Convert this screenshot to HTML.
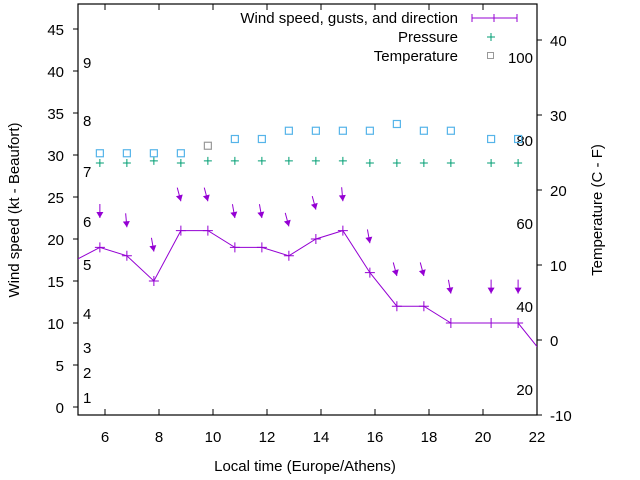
<!DOCTYPE html>
<html><head><meta charset="utf-8"><style>
body{margin:0;background:#fff}
svg{display:block;font-family:"Liberation Sans",sans-serif}
</style></head><body>
<svg id="c" width="640" height="480" viewBox="0 0 640 480">
<defs><clipPath id="clip"><rect x="78" y="4" width="459" height="411"/></clipPath></defs>
<g id="axes"></g>
<g id="plot" clip-path="url(#clip)"></g>
<g id="legend">
<text x="458" y="23" text-anchor="end" font-size="15">Wind speed, gusts, and direction</text>
<line x1="472" y1="18" x2="517" y2="18" stroke="#9400d3" stroke-width="1"/>
<line x1="472" y1="14" x2="472" y2="22" stroke="#9400d3"/><line x1="494" y1="14" x2="494" y2="22" stroke="#9400d3"/><line x1="517" y1="14" x2="517" y2="22" stroke="#9400d3"/>
<text x="458" y="42" text-anchor="end" font-size="15">Pressure</text>
<path d="M487 37h8M491 33v8" stroke="#009e73"/>
<text x="458" y="61" text-anchor="end" font-size="15">Temperature</text>
<rect x="487.5" y="52.5" width="6" height="6" fill="none" stroke="#999"/>
</g>
</svg>
<script>
const hours=[4.8,5.81,6.81,7.81,8.81,9.81,10.81,11.81,12.81,13.81,14.81,15.81,16.81,17.81,18.81,20.3,21.3,22.3];
const wind=[17.3,19,18,15,21,21,19,19,18,20,21,16,12,12,10,10,10,6];
const gustHours=[5.81,6.81,7.81,8.81,9.81,10.81,11.81,12.81,13.81,14.81,15.81,16.81,17.81,18.81,20.3,21.3];
const gusts=[22.5,21.4,18.5,24.5,24.5,22.5,22.5,21.5,23.5,24.5,19.5,15.6,15.6,13.5,13.5,13.5];
const dirTilt=[0,5,10,15,15,10,10,15,15,5,10,15,15,10,0,0];
const pressure=[29.05,29.05,29.3,29.05,29.3,29.3,29.3,29.3,29.3,29.3,29.05,29.05,29.05,29.05,29.05,29.05];
const temps=[24.9,24.9,24.9,24.9,25.9,26.8,26.8,27.9,27.9,27.9,27.9,28.8,27.9,27.9,26.8,26.8];
const xTicks=[6,8,10,12,14,16,18,20,22];
const yTicks=[0,5,10,15,20,25,30,35,40,45];
const tTicks=[-10,0,10,20,30,40];
const beaufort=[[1,397],[2,372],[3,347],[4,313],[5,264],[6,221],[7,171],[8,120],[9,62]];
const fahr=[[20,389],[40,306],[60,223],[80,140],[100,57]];
const X=h=>78+(h-5)*27;
const Y=v=>407-v*8.4;
const T=t=>340-t*7.5;
const NS='http://www.w3.org/2000/svg';
function mk(p,tag,at,txt){const e=document.createElementNS(NS,tag);for(const k in at)e.setAttribute(k,at[k]);if(txt!==undefined)e.textContent=txt;p.appendChild(e);return e;}
const ax=document.getElementById('axes'),pl=document.getElementById('plot');
let b=mk(ax,'rect',{x:78,y:4,width:459,height:411,fill:'none',stroke:'#000','stroke-width':1.2});


xTicks.forEach(h=>{const x=X(h);
mk(ax,'line',{x1:x,y1:4,x2:x,y2:10,stroke:'#000'});
mk(ax,'line',{x1:x,y1:415,x2:x,y2:409,stroke:'#000'});
const t=mk(ax,'text',{x:x,y:442,'text-anchor':'middle','font-size':15},String(h));

});
yTicks.forEach(v=>{const y=Y(v);
mk(ax,'line',{x1:73,y1:y,x2:78,y2:y,stroke:'#000'});
const t=mk(ax,'text',{x:64,y:y+6,'text-anchor':'end','font-size':15},String(v));

});
tTicks.forEach(v=>{const y=T(v);
mk(ax,'line',{x1:537,y1:y,x2:542,y2:y,stroke:'#000'});
const t=mk(ax,'text',{x:550,y:y+6,'font-size':15},String(v));

});
beaufort.forEach(([n,y])=>{const t=mk(ax,'text',{x:83,y:y+6,'font-size':15},String(n));

});
fahr.forEach(([n,y])=>{const t=mk(ax,'text',{x:533,y:y+6,'text-anchor':'end','font-size':15},String(n));

});
let l=mk(ax,'text',{x:305,y:471,'text-anchor':'middle','font-size':15},'Local time (Europe/Athens)');


l=mk(ax,'text',{transform:'translate(19,210) rotate(-90)','text-anchor':'middle','font-size':15},'Wind speed (kt - Beaufort)');


l=mk(ax,'text',{transform:'translate(602,210) rotate(-90)','text-anchor':'middle','font-size':15},'Temperature (C - F)');


// wind line
const ln=mk(pl,'polyline',{points:hours.map((h,i)=>X(h)+','+Y(wind[i])).join(' '),fill:'none',stroke:'#9400d3','stroke-width':1});


hours.forEach((h,i)=>{const x=X(h),y=Y(wind[i]);
const p=mk(pl,'path',{d:`M${x-5} ${y}h10M${x} ${y-5}v10`,stroke:'#9400d3'});

});
gustHours.forEach((h,i)=>{const x=X(h),y=Y(gusts[i]);const a=dirTilt[i]*Math.PI/180;
const tx=x-14*Math.sin(a),ty=y-14*Math.cos(a);
const g=mk(pl,'g',{});


mk(g,'line',{x1:tx,y1:ty,x2:x,y2:y,stroke:'#9400d3'});
const ux=Math.sin(a),uy=Math.cos(a),px=-uy,py=ux;
mk(g,'polygon',{points:`${x},${y} ${x-6*ux+3.5*px},${y-6*uy+3.5*py} ${x-6*ux-3.5*px},${y-6*uy-3.5*py}`,fill:'#9400d3'});});
gustHours.forEach((h,i)=>{const x=X(h),y=Y(pressure[i]);
const p=mk(pl,'path',{d:`M${x-4} ${y}h8M${x} ${y-4}v8`,stroke:'#009e73'});

});
gustHours.forEach((h,i)=>{const x=X(h),y=T(temps[i]);
const r=mk(pl,'rect',{x:x-3.5,y:y-3.5,width:7,height:7,fill:'none',stroke:i==4?'#999':'#56b4e9','stroke-width':1.2});

});
</script>
</body></html>
